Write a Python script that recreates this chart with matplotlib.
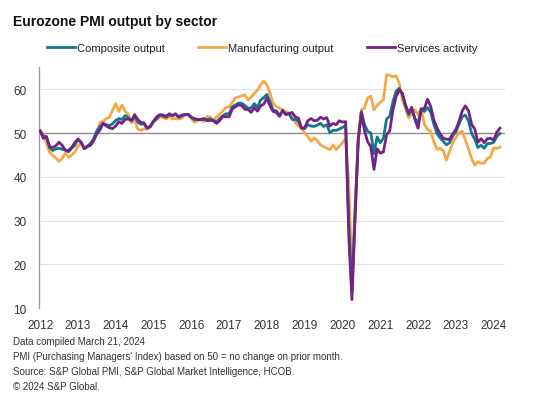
import matplotlib
matplotlib.use("Agg")
import matplotlib.pyplot as plt
import numpy as np

plt.rcParams['font.family'] = ['Liberation Sans', 'DejaVu Sans']

# monthly PMI readings, Jan 2012 - Mar 2024
composite = [
    50.4, 49.3, 49.1, 46.7, 46.0, 46.4, 46.5, 46.3, 46.1, 45.7, 46.5, 47.2,  # 2012
    48.6, 47.9, 46.5, 46.9, 47.7, 48.7, 50.5, 51.5, 52.2, 51.9, 51.7, 52.1,  # 2013
    52.9, 53.3, 53.1, 54.0, 53.5, 52.8, 53.8, 52.5, 52.0, 52.1, 51.1, 51.4,  # 2014
    52.6, 53.3, 54.0, 53.9, 53.6, 54.2, 53.9, 54.3, 53.6, 53.9, 54.2, 54.3,  # 2015
    53.6, 53.0, 53.1, 53.0, 53.1, 53.1, 53.2, 52.9, 52.6, 53.3, 53.9, 54.4,  # 2016
    54.4, 56.0, 56.4, 56.8, 56.8, 56.3, 55.7, 55.7, 56.7, 55.9, 57.5, 58.1,  # 2017
    58.8, 57.1, 55.2, 55.1, 54.1, 54.9, 54.3, 54.5, 53.1, 53.1, 52.7, 51.1,  # 2018
    51.0, 51.9, 51.6, 51.5, 51.8, 52.2, 51.5, 51.9, 50.1, 50.6, 50.6, 50.9,  # 2019
    51.3, 51.6, 29.7, 13.6, 31.9, 48.5, 54.9, 51.9, 50.4, 50.0, 45.3, 49.1,  # 2020
    47.8, 48.8, 53.2, 53.8, 57.1, 59.5, 60.2, 59.0, 56.2, 54.2, 55.4, 53.3,  # 2021
    52.3, 55.5, 54.9, 55.8, 54.8, 52.0, 49.9, 48.9, 48.1, 47.3, 47.8, 49.3,  # 2022
    50.3, 52.0, 53.7, 54.1, 52.8, 49.9, 48.6, 46.7, 47.2, 46.5, 47.6, 47.6,  # 2023
    47.9, 49.2, 49.9,                                                        # 2024
]
manufacturing = [
    50.6, 49.9, 47.6, 45.6, 44.9, 44.3, 43.5, 44.2, 45.4, 44.5, 45.0, 45.6,
    47.0, 47.8, 46.6, 46.8, 47.3, 48.2, 50.1, 52.4, 52.7, 53.3, 53.6, 55.2,
    56.7, 54.9, 56.4, 55.0, 54.2, 52.3, 53.0, 50.9, 50.6, 51.0, 50.9, 51.6,
    52.6, 53.0, 53.7, 53.5, 53.2, 53.7, 53.2, 53.3, 53.2, 53.4, 54.2, 54.1,
    53.3, 52.5, 52.8, 53.2, 52.6, 53.8, 53.6, 53.0, 53.7, 54.3, 55.0, 55.8,
    56.0, 57.0, 58.0, 58.2, 58.5, 58.7, 57.6, 58.2, 59.1, 59.8, 61.0, 61.9,
    61.0, 59.1, 56.8, 56.0, 55.7, 55.2, 54.9, 54.6, 53.6, 52.4, 51.6, 51.0,
    50.0, 49.2, 48.1, 48.9, 48.3, 47.3, 46.9, 46.6, 46.2, 47.3, 46.2, 47.0,
    47.8, 48.7, 38.5, 18.1, 33.6, 49.0, 55.3, 55.6, 58.0, 58.4, 55.3, 56.3,
    57.0, 57.6, 63.3, 63.2, 62.8, 63.1, 61.4, 57.6, 55.6, 53.4, 54.5, 55.3,
    54.2, 55.5, 52.0, 50.8, 50.4, 48.0, 46.3, 46.5, 46.0, 43.8, 45.8, 47.8,
    48.9, 50.1, 50.4, 48.5, 46.4, 44.2, 42.7, 43.4, 43.1, 43.1, 44.2, 44.6,
    46.6, 46.5, 46.8,
]
services = [
    50.5, 48.8, 49.2, 46.9, 46.7, 47.1, 47.9, 47.2, 46.1, 46.0, 46.7, 47.8,
    48.6, 47.9, 46.4, 47.0, 47.2, 48.3, 49.8, 50.7, 52.2, 51.6, 51.2, 51.0,
    51.6, 52.6, 52.2, 53.1, 53.2, 52.8, 54.2, 53.1, 52.4, 52.3, 51.1, 51.6,
    52.7, 53.7, 54.2, 54.1, 53.8, 54.4, 54.0, 54.4, 53.7, 54.1, 54.2, 54.2,
    53.6, 53.3, 53.1, 53.1, 53.3, 52.8, 52.9, 52.8, 52.2, 52.8, 53.8, 53.7,
    53.7, 55.5, 56.0, 56.4, 56.3, 55.4, 55.4, 54.7, 55.8, 55.0, 56.2, 56.6,
    58.0, 56.2, 54.9, 54.7, 53.8, 55.2, 54.2, 54.4, 54.7, 53.7, 53.4, 51.2,
    51.2, 52.8, 53.3, 52.8, 52.9, 53.6, 53.2, 53.5, 51.6, 52.2, 51.9, 52.8,
    52.5, 52.6, 26.4, 12.0, 30.5, 48.3, 54.7, 50.5, 48.0, 46.9, 41.7, 46.4,
    45.4, 45.7, 49.6, 50.5, 55.2, 58.3, 59.8, 59.0, 56.4, 54.6, 55.9, 53.1,
    51.1, 55.5, 55.6, 57.7, 56.1, 53.0, 51.2, 49.8, 48.8, 48.6, 48.5, 49.8,
    50.8, 52.7, 55.0, 56.2, 55.1, 52.0, 50.9, 47.9, 48.7, 47.8, 48.7, 48.8,
    48.4, 50.2, 51.1,
]
years = list(range(2012, 2025))

t = 2012 + np.arange(len(composite)) / 12

fig = plt.figure(figsize=(5.44, 4.06), dpi=100)
ax = fig.add_axes([39/544, 1-309.3/406, (505-39)/544, (309.3-68.3)/406])

c_comp = '#13788c'
c_manu = '#f5a846'
c_serv = '#742283'

for v in [10, 20, 30, 40, 60]:
    ax.axhline(v, color='#e3e3e3', lw=0.9, zorder=0)
ax.axhline(50, color='#8c8c8c', lw=1.0, zorder=1)

ax.plot(t, manufacturing, color=c_manu, lw=2.0, zorder=2, label='Manufacturing output')
ax.plot(t, composite, color=c_comp, lw=2.0, zorder=3, label='Composite output')
ax.plot(t, services, color=c_serv, lw=2.0, zorder=4, label='Services activity')

ax.set_xlim(2011.97, 2024.3)
ax.set_ylim(10, 65)
ax.set_yticks([10, 20, 30, 40, 50, 60])
ax.set_xticks(years)
ax.set_xticklabels([str(y) for y in years])
ax.tick_params(axis='both', length=0, labelsize=8.5, colors='#333333')
ax.tick_params(axis='y', pad=9)
ax.tick_params(axis='x', pad=8)
for s in ['top', 'right', 'bottom']:
    ax.spines[s].set_visible(False)
ax.spines['left'].set_color('#9a9a9a')
ax.spines['left'].set_linewidth(0.9)

h, l = ax.get_legend_handles_labels()
order = [1, 0, 2]
fig.legend([h[i] for i in order], [l[i] for i in order], loc='center left',
           bbox_to_anchor=(47/544, 1-49/406), ncol=3, frameon=False,
           fontsize=8, handlelength=2.5, handletextpad=0.2, columnspacing=3.0,
           borderpad=0, borderaxespad=0, labelcolor='#222222')

fig.text(13/544, 1-22/406, 'Eurozone PMI output by sector', fontsize=10,
         fontweight='bold', va='center', ha='left', color='#111111')

notes = [
    'Data compiled March 21, 2024',
    "PMI (Purchasing Managers' Index) based on 50 = no change on prior month.",
    'Source: S&P Global PMI, S&P Global Market Intelligence, HCOB.',
    '\u00a9 2024 S&P Global.',
]
for i, s in enumerate(notes):
    fig.text(13/544, 1-(342.5 + i*14.8)/406, s, fontsize=7, va='center', ha='left',
             color='#333333')

fig.savefig('out.png', dpi=100)
